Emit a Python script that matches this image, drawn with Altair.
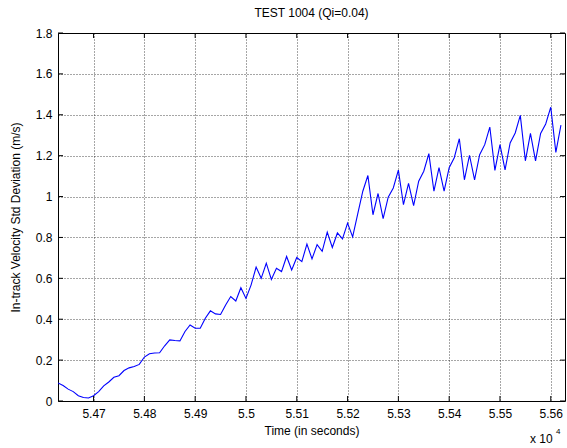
import altair as alt
import pandas as pd

# sample times (s), 10 s spacing
times = list(range(54630, 55621, 10))

velocity_std = [
    0.088, 0.076, 0.058, 0.046, 0.026, 0.017, 0.015, 0.026, 0.046, 0.074,
    0.093, 0.116, 0.124, 0.149, 0.162, 0.169, 0.179, 0.215, 0.231, 0.235,
    0.236, 0.270, 0.299, 0.296, 0.294, 0.340, 0.372, 0.356, 0.356, 0.405,
    0.441, 0.426, 0.423, 0.470, 0.511, 0.489, 0.554, 0.502, 0.567, 0.655,
    0.600, 0.674, 0.595, 0.649, 0.633, 0.707, 0.641, 0.702, 0.682, 0.768,
    0.695, 0.765, 0.732, 0.826, 0.751, 0.822, 0.793, 0.870, 0.803, 0.915,
    1.026, 1.103, 0.911, 1.015, 0.892, 0.997, 1.042, 1.129, 0.960, 1.064,
    0.956, 1.075, 1.124, 1.210, 1.026, 1.141, 1.026, 1.141, 1.190, 1.283,
    1.082, 1.202, 1.082, 1.205, 1.254, 1.340, 1.128, 1.254, 1.131, 1.262,
    1.311, 1.397, 1.175, 1.309, 1.175, 1.309, 1.355, 1.437, 1.216, 1.349,
]

x_ticks = [54700, 54800, 54900, 55000, 55100, 55200, 55300, 55400, 55500, 55600]
y_ticks = [0, 0.2, 0.4, 0.6, 0.8, 1, 1.2, 1.4, 1.6, 1.8]
x_domain = [54630, 55628]
y_domain = [0, 1.8]

title_text = "TEST 1004 (Qi=0.04)"
x_title = "Time (in seconds)"
y_title = "In-track Velocity Std Deviation (m/s)"

FONT = "Liberation Sans"
W, H = 507, 368

df = pd.DataFrame({"t": times, "v": velocity_std})
xt = pd.DataFrame({"t": x_ticks})
yt = pd.DataFrame({"v": y_ticks})

xscale = alt.Scale(domain=x_domain, nice=False, zero=False)
yscale = alt.Scale(domain=y_domain, nice=False, zero=True)

line = alt.Chart(df).mark_line(color="#0000ff", strokeWidth=1.1, clip=True).encode(
    x=alt.X("t:Q", scale=xscale, title=x_title,
            axis=alt.Axis(values=x_ticks, labelExpr="format(datum.value/10000, '~g')",
                          grid=True, ticks=False, domain=False, labelPadding=7,
                          titlePadding=6, labelFlush=False)),
    y=alt.Y("v:Q", scale=yscale, title=y_title,
            axis=alt.Axis(values=y_ticks, format="~g", grid=True, ticks=False,
                          domain=False, labelPadding=6, titlePadding=13)),
)

tick_len = 5
bottom_ticks = alt.Chart(xt).mark_rule(color="black", strokeWidth=1).encode(
    x=alt.X("t:Q", scale=xscale), y=alt.value(H), y2=alt.value(H - tick_len))
top_ticks = alt.Chart(xt).mark_rule(color="black", strokeWidth=1).encode(
    x=alt.X("t:Q", scale=xscale), y=alt.value(0), y2=alt.value(tick_len))
left_ticks = alt.Chart(yt).mark_rule(color="black", strokeWidth=1).encode(
    y=alt.Y("v:Q", scale=yscale), x=alt.value(0), x2=alt.value(tick_len))
right_ticks = alt.Chart(yt).mark_rule(color="black", strokeWidth=1).encode(
    y=alt.Y("v:Q", scale=yscale), x=alt.value(W), x2=alt.value(W - tick_len))

exp_base = alt.Chart(pd.DataFrame({"s": ["x 10"]})).mark_text(
    font=FONT, fontSize=12, align="left", baseline="middle", color="black").encode(
    text="s:N", x=alt.value(472), y=alt.value(406))
exp_sup = alt.Chart(pd.DataFrame({"s": ["4"]})).mark_text(
    font=FONT, fontSize=8, align="left", baseline="middle", color="black").encode(
    text="s:N", x=alt.value(498), y=alt.value(399))

chart = alt.layer(line, bottom_ticks, top_ticks, left_ticks, right_ticks, exp_base, exp_sup).properties(
    width=W, height=H,
    title=alt.TitleParams(title_text, font=FONT, fontSize=12, fontWeight="normal",
                          color="black", anchor="middle", offset=7),
    autosize=alt.AutoSizeParams(type="none"),
    padding={"left": 58, "top": 33, "right": 2, "bottom": 47},
    background="white",
).configure_view(stroke="black", strokeWidth=1).configure_axis(
    labelFont=FONT, labelFontSize=12, labelColor="black",
    titleFont=FONT, titleFontSize=12, titleFontWeight="normal", titleColor="black",
    gridColor="#000000", gridDash=[1, 2], gridOpacity=0.7, gridWidth=1,
)

chart.save("out.html", embed_options={"renderer": "svg", "actions": False})
